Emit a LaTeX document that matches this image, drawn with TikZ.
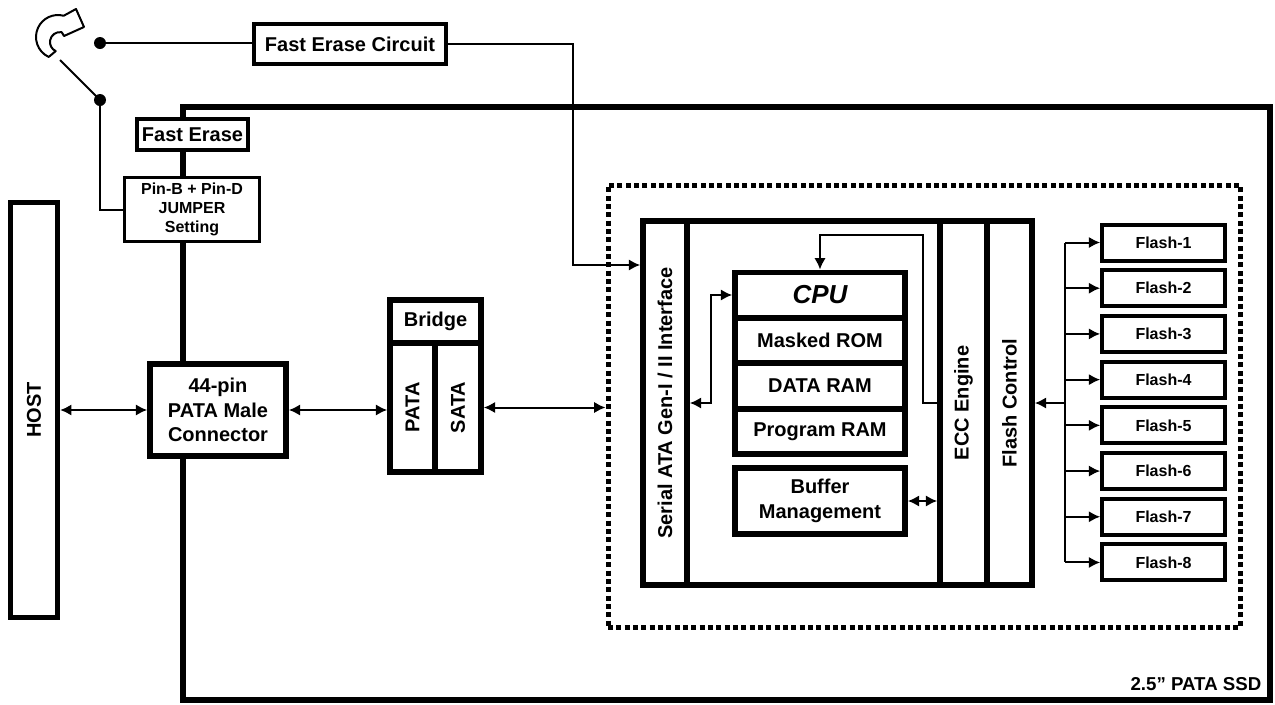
\documentclass[tikz,border=0pt]{standalone}
\usepackage{fontspec}
\setmainfont{Liberation Sans}
\usetikzlibrary{arrows.meta}

\begin{document}
\begin{tikzpicture}[x=0.75pt,y=0.75pt,yscale=-1,xscale=1,
  font=\bfseries\fontsize{15}{18.4}\selectfont,
  >={Latex[length=8.5pt,width=8.5pt]},
  heavy/.style={draw, fill=white, line width=4.2pt, inner sep=0pt},
  medium/.style={draw, fill=white, line width=3pt, inner sep=0pt},
  light/.style={draw, fill=white, line width=2.2pt, inner sep=0pt},
  wire/.style={line width=1.5pt},
  dotframe/.style={draw, line width=3.75pt, dash pattern=on 3.75pt off 2.5pt},
  pin/.style={circle, fill=black, inner sep=0pt, minimum size=9pt},
  small/.style={font=\bfseries\fontsize{12}{14.2}\selectfont}]

\useasboundingbox (0,0) rectangle (1275,704);

% drive outline
\node[heavy, fill=none, minimum width=815pt, minimum height=445pt] (ssd) at (726.5,403.5) {};
\node[anchor=south east, font=\bfseries\fontsize{14}{16}\selectfont] (ssdname) at (1266,695) {2.5” PATA SSD};

% fast erase switch
\draw[line width=1.5pt, fill=white, line join=round] (58,37) ++(115:22) arc[start angle=115, end angle=285, radius=22]
  -- (76,9) -- (84,27) -- (64,36) -- (61.7,32.2)
  arc[start angle=280, end angle=115, radius=10] -- cycle;
\node[pin] (pinA) at (100,43) {};
\node[pin] (pinB) at (100,100) {};
\coordinate (lever) at (60,60);
\node[medium, minimum width=144pt, minimum height=30pt] (fec) at (350,44) {Fast Erase Circuit};
\node[medium, minimum width=83pt, minimum height=23pt] (fe) at (192.5,134.5) {Fast Erase};
\node[light, small, minimum width=101pt, minimum height=48pt, align=center] (jmp) at (192,209.5) {Pin-B + Pin-D\\JUMPER\\Setting};
\draw[wire] (lever) -- (pinB.center);
\draw[wire] (pinA) -- (pinA -| fec.west);
\draw[wire] (pinB) |- (jmp.west);

% host side
\node[heavy, minimum width=35pt, minimum height=311pt] (host) at (34,410) {};
\node[rotate=90] (hostlabel) at (host) {HOST};
\node[heavy, minimum width=102pt, minimum height=69pt, align=center] (conn) at (218,410) {44-pin\\PATA Male\\Connector};

% bridge
\node[heavy, minimum width=68pt, minimum height=32pt] (bridge) at (435.5,321.5) {Bridge};
\node[heavy, minimum width=33.75pt, minimum height=97pt] (pata) at (412.5,407.5) {};
\node[heavy, minimum width=34.5pt, minimum height=97pt] (sata) at (458,407.5) {};
\node[rotate=90] (patalabel) at (pata) {PATA};
\node[rotate=90] (satalabel) at (sata) {SATA};

% controller
\node[dotframe, minimum width=474pt, minimum height=331.5pt] (dotbox) at (924,406) {};
\node[heavy, minimum width=292pt, minimum height=273pt] (ctrl) at (837.5,403) {};
\node[heavy, minimum width=33pt, minimum height=273pt] (sif) at (665,403) {};
\node[heavy, minimum width=35.25pt, minimum height=273pt] (ecc) at (963.5,403) {};
\node[heavy, minimum width=33.75pt, minimum height=273pt] (flc) at (1009.5,403) {};
\node[rotate=90] (siflabel) at (sif) {Serial ATA Gen-I / II Interface};
\node[rotate=90] (ecclabel) at (ecc) {ECC Engine};
\node[rotate=90] (flclabel) at (flc) {Flash Control};

\node[heavy, minimum width=127.5pt, minimum height=34pt, font=\bfseries\itshape\fontsize{19.5}{22}\selectfont] (cpu) at (820,295) {CPU};
\node[heavy, minimum width=127.5pt, minimum height=34pt] (rom) at (820,340.5) {Masked ROM};
\node[heavy, minimum width=127.5pt, minimum height=34pt] (dram) at (820,386) {DATA RAM};
\node[heavy, minimum width=127.5pt, minimum height=34pt] (pram) at (820,431.5) {Program RAM};
\node[heavy, minimum width=127.5pt, minimum height=49.5pt, align=center] (buf) at (820,501) {Buffer\\Management};

% flash array
\foreach \i in {1,...,8}
  \node[medium, small, minimum width=92pt, minimum height=27pt] (flash\i) at (1163.5,{242.5+45.71*(\i-1)}) {Flash-\i};

% connections
\coordinate (fbend) at (573,265);
\draw[wire,->] (fec.east) -| (fbend) -- (fbend -| sif.west);
\draw[wire,<->] (host.east) -- (conn.west);
\draw[wire,<->] (conn.east) -- (conn.east -| pata.west);
\draw[wire,<->] (sata.east) -- (sata.east -| dotbox.west);

\coordinate (cbend) at (711,403);
\draw[wire,<->] (cpu.west) -| (cbend) -- (cbend -| sif.east);
\coordinate (ebend) at (923,235);
\draw[wire,->] (ecc.west) -| (ebend) -| (cpu.north);
\draw[wire,<->] (buf.east) -- (buf.east -| ecc.west);

\coordinate (bus) at (1065,403);
\draw[wire,->] (bus) -- (bus -| flc.east);
\draw[wire] (bus |- flash1.west) -- (bus |- flash8.west);
\foreach \i in {1,...,8}
  \draw[wire,->] (bus |- flash\i.west) -- (flash\i.west);
\end{tikzpicture}
\end{document}
